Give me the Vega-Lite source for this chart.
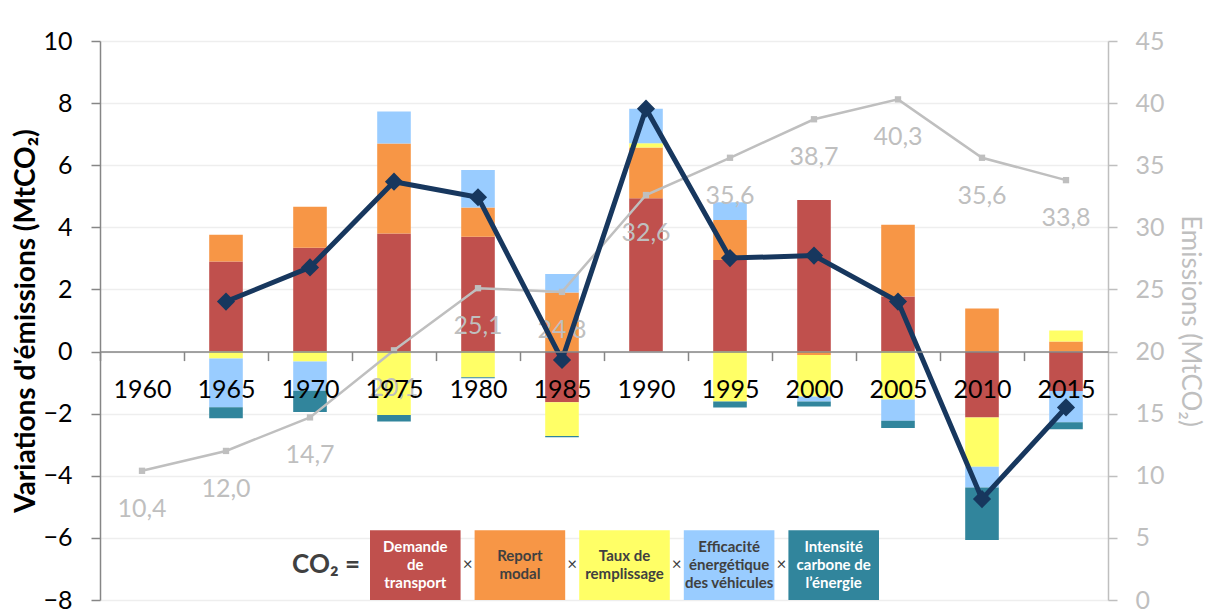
{
  "$schema": "https://vega.github.io/schema/vega-lite/v6.json",
  "width": 1008,
  "height": 559,
  "autosize": "none",
  "padding": {"left": 100, "top": 41, "right": 108, "bottom": 12},
  "background": "white",
  "config": {"view": {"stroke": null}, "font": "Lato"},
  "datasets": {
    "bars": [
      {"year": "1965", "factor": "Demande de transport", "k": 1, "value": 2.90},
      {"year": "1965", "factor": "Report modal", "k": 2, "value": 0.86},
      {"year": "1965", "factor": "Taux de remplissage", "k": 3, "value": -0.22},
      {"year": "1965", "factor": "Efficacité énergétique des véhicules", "k": 4, "value": -1.57},
      {"year": "1965", "factor": "Intensité carbone de l’énergie", "k": 5, "value": -0.36},
      {"year": "1970", "factor": "Demande de transport", "k": 1, "value": 3.34},
      {"year": "1970", "factor": "Report modal", "k": 2, "value": 1.32},
      {"year": "1970", "factor": "Taux de remplissage", "k": 3, "value": -0.32},
      {"year": "1970", "factor": "Efficacité énergétique des véhicules", "k": 4, "value": -0.94},
      {"year": "1970", "factor": "Intensité carbone de l’énergie", "k": 5, "value": -0.69},
      {"year": "1975", "factor": "Demande de transport", "k": 1, "value": 3.80},
      {"year": "1975", "factor": "Report modal", "k": 2, "value": 2.90},
      {"year": "1975", "factor": "Taux de remplissage", "k": 3, "value": -2.04},
      {"year": "1975", "factor": "Efficacité énergétique des véhicules", "k": 4, "value": 1.03},
      {"year": "1975", "factor": "Intensité carbone de l’énergie", "k": 5, "value": -0.21},
      {"year": "1980", "factor": "Demande de transport", "k": 1, "value": 3.70},
      {"year": "1980", "factor": "Report modal", "k": 2, "value": 0.94},
      {"year": "1980", "factor": "Taux de remplissage", "k": 3, "value": -0.83},
      {"year": "1980", "factor": "Efficacité énergétique des véhicules", "k": 4, "value": 1.21},
      {"year": "1980", "factor": "Intensité carbone de l’énergie", "k": 5, "value": -0.03},
      {"year": "1985", "factor": "Demande de transport", "k": 1, "value": -1.63},
      {"year": "1985", "factor": "Report modal", "k": 2, "value": 1.90},
      {"year": "1985", "factor": "Taux de remplissage", "k": 3, "value": -1.09},
      {"year": "1985", "factor": "Efficacité énergétique des véhicules", "k": 4, "value": 0.60},
      {"year": "1985", "factor": "Intensité carbone de l’énergie", "k": 5, "value": -0.04},
      {"year": "1990", "factor": "Demande de transport", "k": 1, "value": 4.94},
      {"year": "1990", "factor": "Report modal", "k": 2, "value": 1.63},
      {"year": "1990", "factor": "Taux de remplissage", "k": 3, "value": 0.14},
      {"year": "1990", "factor": "Efficacité énergétique des véhicules", "k": 4, "value": 1.11},
      {"year": "1990", "factor": "Intensité carbone de l’énergie", "k": 5, "value": 0.0},
      {"year": "1995", "factor": "Demande de transport", "k": 1, "value": 2.95},
      {"year": "1995", "factor": "Report modal", "k": 2, "value": 1.29},
      {"year": "1995", "factor": "Taux de remplissage", "k": 3, "value": -1.61},
      {"year": "1995", "factor": "Efficacité énergétique des véhicules", "k": 4, "value": 0.57},
      {"year": "1995", "factor": "Intensité carbone de l’énergie", "k": 5, "value": -0.19},
      {"year": "2000", "factor": "Demande de transport", "k": 1, "value": 4.88},
      {"year": "2000", "factor": "Report modal", "k": 2, "value": -0.11},
      {"year": "2000", "factor": "Taux de remplissage", "k": 3, "value": -1.34},
      {"year": "2000", "factor": "Efficacité énergétique des véhicules", "k": 4, "value": -0.16},
      {"year": "2000", "factor": "Intensité carbone de l’énergie", "k": 5, "value": -0.16},
      {"year": "2005", "factor": "Demande de transport", "k": 1, "value": 1.77},
      {"year": "2005", "factor": "Report modal", "k": 2, "value": 2.31},
      {"year": "2005", "factor": "Taux de remplissage", "k": 3, "value": -1.54},
      {"year": "2005", "factor": "Efficacité énergétique des véhicules", "k": 4, "value": -0.69},
      {"year": "2005", "factor": "Intensité carbone de l’énergie", "k": 5, "value": -0.23},
      {"year": "2010", "factor": "Demande de transport", "k": 1, "value": -2.12},
      {"year": "2010", "factor": "Report modal", "k": 2, "value": 1.39},
      {"year": "2010", "factor": "Taux de remplissage", "k": 3, "value": -1.59},
      {"year": "2010", "factor": "Efficacité énergétique des véhicules", "k": 4, "value": -0.67},
      {"year": "2010", "factor": "Intensité carbone de l’énergie", "k": 5, "value": -1.69},
      {"year": "2015", "factor": "Demande de transport", "k": 1, "value": -1.27},
      {"year": "2015", "factor": "Report modal", "k": 2, "value": 0.32},
      {"year": "2015", "factor": "Taux de remplissage", "k": 3, "value": 0.36},
      {"year": "2015", "factor": "Efficacité énergétique des véhicules", "k": 4, "value": -1.01},
      {"year": "2015", "factor": "Intensité carbone de l’énergie", "k": 5, "value": -0.22}
    ],
    "series": [
      {"year": "1960", "total": null, "emissions": 10.4, "label": "10,4"},
      {"year": "1965", "total": 1.61, "emissions": 12.0, "label": "12,0"},
      {"year": "1970", "total": 2.71, "emissions": 14.7, "label": "14,7"},
      {"year": "1975", "total": 5.47, "emissions": 20.1, "label": "20,1"},
      {"year": "1980", "total": 4.97, "emissions": 25.1, "label": "25,1"},
      {"year": "1985", "total": -0.27, "emissions": 24.8, "label": "24,8"},
      {"year": "1990", "total": 7.82, "emissions": 32.6, "label": "32,6"},
      {"year": "1995", "total": 3.01, "emissions": 35.6, "label": "35,6"},
      {"year": "2000", "total": 3.09, "emissions": 38.7, "label": "38,7"},
      {"year": "2005", "total": 1.61, "emissions": 40.3, "label": "40,3"},
      {"year": "2010", "total": -4.75, "emissions": 35.6, "label": "35,6"},
      {"year": "2015", "total": -1.80, "emissions": 33.8, "label": "33,8"}
    ],
    "legend": [
      {"factor": "CO₂ =", "text": "CO₂ =", "lines": 1},
      {"factor": "Demande de transport", "text": "Demande\nde\ntransport", "lines": 3},
      {"factor": "Report modal", "text": "Report\nmodal", "lines": 2},
      {"factor": "Taux de remplissage", "text": "Taux de\nremplissage", "lines": 2},
      {"factor": "Efficacité énergétique des véhicules", "text": "Efficacité\nénergétique\ndes véhicules", "lines": 3},
      {"factor": "Intensité carbone de l’énergie", "text": "Intensité\ncarbone de\nl’énergie", "lines": 3}
    ]
  },
  "layer": [
    {
      "data": {"name": "bars"},
      "mark": {"type": "bar"},
      "encoding": {
        "x": {
          "field": "year", "type": "ordinal",
          "scale": {"type": "band", "domain": ["1960","1965","1970","1975","1980","1985","1990","1995","2000","2005","2010","2015"], "paddingInner": 0.6, "paddingOuter": 0.3},
          "axis": {
            "orient": "bottom", "offset": -248.4, "labelAngle": 0, "labelFontSize": 25, "labelColor": "#000000",
            "labelPadding": 17, "domainColor": "#868686", "domainWidth": 1.5, "tickColor": "#868686", "tickWidth": 1.5,
            "tickSize": 9, "bandPosition": 0, "tickOffset": -25.2, "labelOffset": 25.2, "title": null, "grid": false, "zindex": 1
          }
        },
        "y": {
          "field": "value", "type": "quantitative", "stack": "zero",
          "scale": {"domain": [-8, 10], "nice": false, "zero": false},
          "axis": {
            "orient": "left", "values": [-8,-6,-4,-2,0,2,4,6,8,10], "grid": true, "gridColor": "#eeeeee", "gridWidth": 1.5,
            "domainColor": "#868686", "domainWidth": 1.5, "tickColor": "#868686", "tickWidth": 1.5, "tickSize": 9,
            "labelFontSize": 25, "labelColor": "#000000", "labelPadding": 19,
            "title": "Variations d'émissions (MtCO₂)", "titleFontSize": 28, "titleFontWeight": "bold", "titleColor": "#000000", "titlePadding": 2
          }
        },
        "color": {
          "field": "factor", "type": "nominal",
          "scale": {
            "domain": ["Demande de transport", "Report modal", "Taux de remplissage", "Efficacité énergétique des véhicules", "Intensité carbone de l’énergie"],
            "range": ["#C0504D", "#F79646", "#FFFF66", "#99CCFF", "#31859C"]
          },
          "legend": null
        },
        "order": {"field": "k", "type": "quantitative"}
      }
    },
    {
      "data": {"name": "series"},
      "encoding": {
        "x": {
          "field": "year", "type": "ordinal",
          "scale": {"type": "point", "domain": ["1960","1965","1970","1975","1980","1985","1990","1995","2000","2005","2010","2015"], "padding": 0.5},
          "axis": null
        },
        "y": {
          "field": "emissions", "type": "quantitative",
          "scale": {"domain": [0, 45], "nice": false, "zero": false},
          "axis": {
            "orient": "right", "values": [0,5,10,15,20,25,30,35,40,45], "grid": false,
            "domainColor": "#bfbfbf", "domainWidth": 1.5, "tickColor": "#bfbfbf", "tickWidth": 1.5, "tickSize": 9,
            "labelFontSize": 25, "labelColor": "#bfbfbf", "labelPadding": 18,
            "title": "Emissions (MtCO₂)", "titleFontSize": 26, "titleFontWeight": "normal", "titleColor": "#bfbfbf", "titlePadding": 12
          }
        }
      },
      "layer": [
        {"mark": {"type": "line", "color": "#bfbfbf", "strokeWidth": 2.5}},
        {"mark": {"type": "point", "shape": "square", "filled": true, "size": 40, "color": "#bfbfbf", "opacity": 1}},
        {"mark": {"type": "text", "dy": 38, "fontSize": 25, "color": "#bfbfbf"}, "encoding": {"text": {"field": "label"}}}
      ]
    },
    {
      "data": {"name": "series"},
      "encoding": {
        "x": {
          "field": "year", "type": "ordinal",
          "scale": {"type": "point", "domain": ["1960","1965","1970","1975","1980","1985","1990","1995","2000","2005","2010","2015"], "padding": 0.5},
          "axis": null
        },
        "y": {
          "field": "total", "type": "quantitative",
          "scale": {"domain": [-8, 10], "nice": false, "zero": false},
          "axis": null
        }
      },
      "layer": [
        {"mark": {"type": "line", "color": "#17375E", "strokeWidth": 5}},
        {"mark": {"type": "point", "shape": "diamond", "filled": true, "size": 330, "color": "#17375E", "opacity": 1}}
      ]
    },
    {
      "data": {"name": "legend"},
      "encoding": {
        "x": {
          "field": "factor", "type": "nominal",
          "scale": {
            "type": "band",
            "domain": ["CO₂ =", "Demande de transport", "Report modal", "Taux de remplissage", "Efficacité énergétique des véhicules", "Intensité carbone de l’énergie"],
            "range": [165.4, 779], "paddingInner": 0.134, "paddingOuter": 0
          },
          "axis": null
        },
        "y": {"datum": -6.87, "type": "quantitative", "scale": {"domain": [-8, 10], "nice": false, "zero": false}, "axis": null}
      },
      "layer": [
        {
          "transform": [{"filter": "datum.factor !== 'CO₂ ='"}],
          "mark": {"type": "rect"},
          "encoding": {
            "y": {"datum": -8, "type": "quantitative"},
            "y2": {"datum": -5.75},
            "color": {"field": "factor", "type": "nominal", "legend": null}
          }
        },
        {
          "transform": [{"filter": "datum.lines === 3"}],
          "mark": {"type": "text", "lineBreak": "\n", "fontSize": 15, "fontWeight": "bold", "baseline": "middle", "lineHeight": 18, "dy": -18},
          "encoding": {
            "text": {"field": "text"},
            "color": {
              "condition": {"test": "datum.factor === 'Demande de transport' || datum.factor === 'Intensité carbone de l’énergie'", "value": "#ffffff"},
              "value": "#404040"
            }
          }
        },
        {
          "transform": [{"filter": "datum.lines === 2"}],
          "mark": {"type": "text", "lineBreak": "\n", "fontSize": 15, "fontWeight": "bold", "baseline": "middle", "lineHeight": 18, "dy": -9, "color": "#404040"},
          "encoding": {
            "text": {"field": "text"}
          }
        },
        {
          "transform": [{"filter": "datum.factor === 'CO₂ ='"}],
          "mark": {"type": "text", "fontSize": 26, "fontWeight": "bold", "baseline": "middle", "align": "right", "dx": 4, "color": "#404040"},
          "encoding": {
            "x": {"field": "factor", "type": "nominal", "bandPosition": 1},
            "text": {"field": "text"}
          }
        },
        {
          "transform": [{"filter": "datum.factor !== 'CO₂ =' && datum.factor !== 'Demande de transport'"}],
          "mark": {"type": "text", "fontSize": 17, "baseline": "middle", "align": "center", "dx": -7, "color": "#404040"},
          "encoding": {
            "x": {"field": "factor", "type": "nominal", "bandPosition": 0},
            "text": {"value": "×"}
          }
        }
      ]
    }
  ],
  "resolve": {"scale": {"x": "independent", "y": "independent"}}
}
